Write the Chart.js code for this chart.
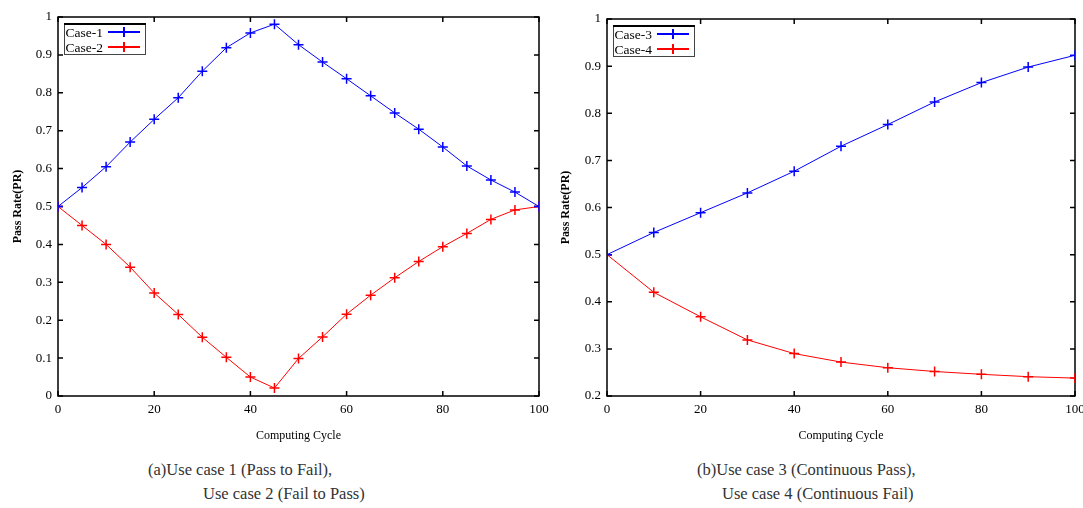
<!DOCTYPE html>
<html lang="en">
<head>
    <meta charset="UTF-8">
    <title>Pass Rate</title>
    <script src="https://cdn.jsdelivr.net/npm/chart.js"></script>
    <style>
        body { margin: 0; background: #fff; width: 1083px; height: 508px; position: relative; overflow: hidden; }
        canvas { position: absolute; top: 0; }
        #chartA { left: 0; }
        #chartB { left: 545px; }
        .cap { position: absolute; font-family: 'Liberation Serif', serif; font-size: 16.5px; line-height: 22px; color: #333; white-space: pre; }
    </style>
</head>
<body>
    <canvas id="chartA" width="556" height="450"></canvas>
    <canvas id="chartB" width="538" height="450"></canvas>

    <div class="cap" style="left:148px; top:459px;">(a)Use case 1 (Pass to Fail),</div>
    <div class="cap" style="left:203px; top:483px;">Use case 2 (Fail to Pass)</div>
    <div class="cap" style="left:697px; top:459px;">(b)Use case 3 (Continuous Pass),</div>
    <div class="cap" style="left:722px; top:483px;">Use case 4 (Continuous Fail)</div>

    <script>
        // data
        const cyclesA = [0, 5, 10, 15, 20, 25, 30, 35, 40, 45, 50, 55, 60, 65, 70, 75, 80, 85, 90, 95, 100];
        const case1 = [0.5, 0.55, 0.605, 0.67, 0.73, 0.787, 0.857, 0.919, 0.958, 0.981, 0.927, 0.881, 0.837, 0.792, 0.747, 0.704, 0.657, 0.607, 0.57, 0.538, 0.5];
        const case2 = [0.5, 0.45, 0.40, 0.34, 0.272, 0.215, 0.155, 0.102, 0.05, 0.021, 0.099, 0.156, 0.216, 0.266, 0.312, 0.355, 0.394, 0.429, 0.466, 0.491, 0.5];

        const cyclesB = [0, 10, 20, 30, 40, 50, 60, 70, 80, 90, 100];
        const case3 = [0.5, 0.547, 0.589, 0.631, 0.677, 0.73, 0.776, 0.824, 0.865, 0.898, 0.923];
        const case4 = [0.5, 0.42, 0.368, 0.319, 0.29, 0.272, 0.26, 0.252, 0.246, 0.241, 0.238];

        const serif = 'Liberation Serif';

        function toPoints(xs, ys) {
            return xs.map((x, i) => ({ x: x, y: ys[i] }));
        }

        // box around the plot with inward ticks on all sides
        const framePlugin = {
            id: 'frame',
            beforeDatasetsDraw(chart) {
                const { ctx, chartArea: a, scales: { x, y } } = chart;
                const len = 5;
                ctx.save();
                ctx.strokeStyle = '#000';
                ctx.lineWidth = 1.5;
                ctx.strokeRect(a.left, a.top, a.right - a.left, a.bottom - a.top);
                ctx.beginPath();
                x.ticks.forEach(t => {
                    const px = x.getPixelForValue(t.value);
                    ctx.moveTo(px, a.bottom); ctx.lineTo(px, a.bottom - len);
                    ctx.moveTo(px, a.top); ctx.lineTo(px, a.top + len);
                });
                y.ticks.forEach(t => {
                    const py = y.getPixelForValue(t.value);
                    ctx.moveTo(a.left, py); ctx.lineTo(a.left + len, py);
                    ctx.moveTo(a.right, py); ctx.lineTo(a.right - len, py);
                });
                ctx.stroke();
                ctx.restore();
            }
        };

        // gnuplot-like key: label, then line sample with a cross
        const keyPlugin = {
            id: 'key',
            afterDatasetsDraw(chart) {
                const { ctx, chartArea: a } = chart;
                const bx = a.left + 6, by = a.top + 6, bw = 81, bh = 31;
                ctx.save();
                ctx.fillStyle = '#fff';
                ctx.fillRect(bx, by, bw, bh);
                ctx.strokeStyle = '#444';
                ctx.lineWidth = 1;
                ctx.strokeRect(bx + 0.5, by + 0.5, bw, bh);
                ctx.strokeStyle = '#000';
                ctx.lineWidth = 2;
                ctx.beginPath(); ctx.moveTo(bx, by + 1); ctx.lineTo(bx + bw + 1, by + 1); ctx.stroke();
                ctx.font = '13.5px ' + serif;
                ctx.textAlign = 'right';
                ctx.textBaseline = 'middle';
                chart.data.datasets.forEach((ds, i) => {
                    const cy = by + 9 + i * 15;
                    ctx.fillStyle = '#000';
                    ctx.fillText(ds.label, bx + 39, cy + 1);
                    ctx.strokeStyle = ds.borderColor;
                    ctx.lineWidth = 2;
                    ctx.beginPath();
                    ctx.moveTo(bx + 44, cy); ctx.lineTo(bx + 76, cy);
                    ctx.moveTo(bx + 60, cy - 5); ctx.lineTo(bx + 60, cy + 5);
                    ctx.stroke();
                });
                ctx.restore();
            }
        };

        function makeChart(id, xs, series, labels, yMin, pad, yWidth, titlePad) {
            const colors = ['#0000ff', '#ff0000'];
            return new Chart(document.getElementById(id), {
                type: 'line',
                data: {
                    datasets: series.map((s, i) => ({
                        label: labels[i],
                        data: toPoints(xs, s),
                        borderColor: colors[i],
                        backgroundColor: colors[i],
                        borderWidth: 1,
                        pointStyle: 'cross',
                        pointRadius: 5,
                        pointBorderWidth: 1.5,
                        tension: 0
                    }))
                },
                options: {
                    responsive: false,
                    animation: false,
                    layout: { padding: pad, autoPadding: false },
                    plugins: { legend: { display: false }, tooltip: { enabled: false } },
                    scales: {
                        x: {
                            type: 'linear', min: 0, max: 100,
                            grid: { display: false, drawTicks: false },
                            border: { display: false },
                            ticks: { stepSize: 20, autoSkip: false, maxRotation: 0, padding: 6, color: '#000', font: { family: serif, size: 13 } },
                            title: { display: true, text: 'Computing Cycle', color: '#000', font: { family: serif, size: 12 }, padding: { top: 4, bottom: 7 } },
                            afterFit: s => { s.height = 54; s.paddingLeft = 0; s.paddingRight = 0; }
                        },
                        y: {
                            min: yMin, max: 1,
                            grid: { display: false, drawTicks: false },
                            border: { display: false },
                            ticks: {
                                stepSize: 0.1, autoSkip: false, padding: 6, color: '#000', font: { family: serif, size: 13 },
                                callback: v => String(Math.round(v * 10) / 10)
                            },
                            title: { display: true, text: 'Pass Rate(PR)', color: '#000', font: { family: serif, size: 12, weight: 'bold' }, padding: { top: titlePad, bottom: 0 } },
                            afterFit: s => { s.width = yWidth; s.paddingTop = 0; s.paddingBottom = 0; }
                        }
                    }
                },
                plugins: [framePlugin, keyPlugin]
            });
        }

        makeChart('chartA', cyclesA, [case1, case2], ['Case-1', 'Case-2'], 0,
            { left: 0, right: 17, top: 17, bottom: 0 }, 58, 11);
        makeChart('chartB', cyclesB, [case3, case4], ['Case-3', 'Case-4'], 0.2,
            { left: 0, right: 8, top: 19, bottom: 0 }, 62, 14);
    </script>
</body>
</html>
